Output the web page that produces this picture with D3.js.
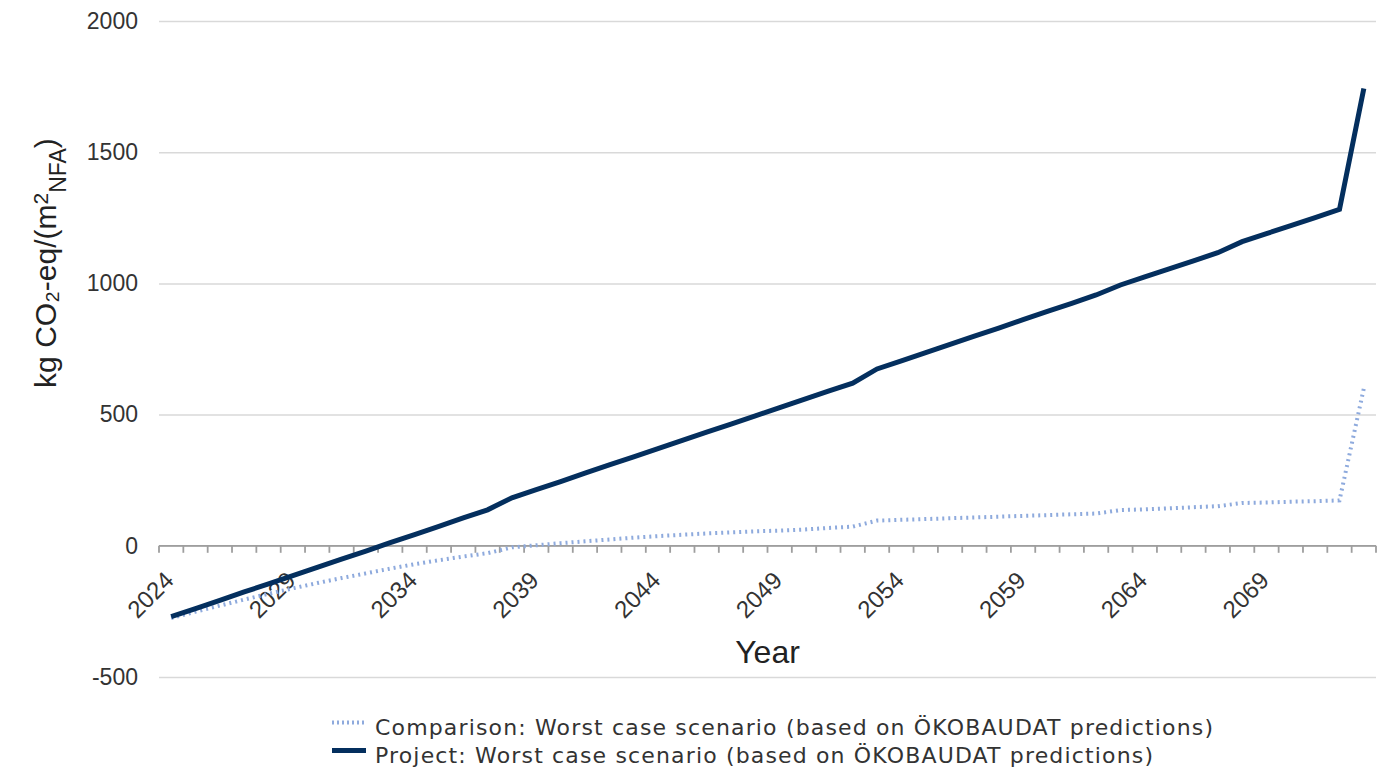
<!DOCTYPE html>
<html>
<head>
<meta charset="utf-8">
<script src="https://cdn.jsdelivr.net/npm/d3@7"></script>
<style>
  html, body { margin: 0; padding: 0; background: #ffffff; }
  svg { display: block; }
</style>
</head>
<body>
<svg id="chart" width="1392" height="773"></svg>
<script>
const years = [2024,2025,2026,2027,2028,2029,2030,2031,2032,2033,
               2034,2035,2036,2037,2038,2039,2040,2041,2042,2043,
               2044,2045,2046,2047,2048,2049,2050,2051,2052,2053,
               2054,2055,2056,2057,2058,2059,2060,2061,2062,2063,
               2064,2065,2066,2067,2068,2069,2070,2071,2072,2073];

const projectValues = [-270,-239,-208,-176,-145,-114,-82,-51,-20,12,
                       43,74,106,137,183,214,245,277,308,339,
                       370,402,433,464,495,527,558,589,620,674,
                       705,736,768,799,830,862,893,924,956,994,
                       1025,1055,1086,1117,1159,1190,1220,1251,1282,1743];

const comparisonValues = [-275,-251,-228,-205,-183,-162,-142,-123,-105,-87,
                          -70,-55,-41,-28,-6,2,10,17,24,31,
                          37,42,47,51,55,58,62,68,73,96,
                          99,102,105,108,111,114,117,120,123,136,
                          139,143,147,151,163,165,168,170,173,600];

const xTickLabels = ["2024","2029","2034","2039","2044","2049","2054","2059","2064","2069"];
const yTicks = [-500, 0, 500, 1000, 1500, 2000];

const seriesNames = [
  "Comparison: Worst case scenario (based on ÖKOBAUDAT predictions)",
  "Project: Worst case scenario (based on ÖKOBAUDAT predictions)"
];

(function draw() {
  const svg = d3.select("#chart");
  const mLeft = 159, mRight = 1376, mTop = 21, mBottom = 677;
  const axisFont = "'Liberation Sans', Arial, sans-serif";
  const textColor = "#333333";
  const navy = "#042f5e";
  const lightBlue = "#8eaadd";

  const x = d3.scaleBand().domain(years).range([mLeft, mRight]).padding(0);
  const y = d3.scaleLinear().domain([-500, 2000]).range([mBottom, mTop]);
  const bw = x.bandwidth();

  svg.append("rect").attr("width", 1392).attr("height", 773).attr("fill", "#ffffff");

  // Y axis with gridlines
  const yAxis = svg.append("g")
    .attr("transform", `translate(${mLeft},0)`)
    .call(d3.axisLeft(y).tickValues(yTicks).tickSize(-(mRight - mLeft)).tickPadding(21).tickFormat(d => String(d)));
  yAxis.select(".domain").remove();
  yAxis.selectAll(".tick line").attr("stroke", "#d9d9d9").attr("stroke-width", 1.5);
  yAxis.selectAll(".tick text")
    .attr("font-family", axisFont).attr("font-size", 23).attr("fill", textColor);

  // X axis line and ticks at band boundaries
  const xg = svg.append("g");
  const y0 = y(0);
  xg.append("line").attr("x1", mLeft).attr("x2", mRight).attr("y1", y0).attr("y2", y0)
    .attr("stroke", "#9e9e9e").attr("stroke-width", 1.8);
  const boundaries = years.map(yr => x(yr)).concat([x(years[years.length - 1]) + bw]);
  xg.selectAll("line.tk").data(boundaries).enter().append("line").attr("class", "tk")
    .attr("x1", d => d).attr("x2", d => d).attr("y1", y0).attr("y2", y0 + 7)
    .attr("stroke", "#9e9e9e").attr("stroke-width", 1.8);

  xg.selectAll("text.xl").data(xTickLabels).enter().append("text").attr("class", "xl")
    .attr("transform", d => `translate(${x(+d) + bw / 2 + 4},${y0 + 36}) rotate(-45)`)
    .attr("text-anchor", "end")
    .attr("font-family", axisFont).attr("font-size", 24).attr("fill", textColor)
    .text(d => d);

  // Lines
  const line = d3.line().x(d => x(d[0]) + bw / 2).y(d => y(d[1]));

  svg.append("path")
    .datum(years.map((yr, i) => [yr, comparisonValues[i]]))
    .attr("d", line).attr("fill", "none")
    .attr("stroke", lightBlue).attr("stroke-width", 4).attr("stroke-dasharray", "2 4");

  svg.append("path")
    .datum(years.map((yr, i) => [yr, projectValues[i]]))
    .attr("d", line).attr("fill", "none")
    .attr("stroke", navy).attr("stroke-width", 5).attr("stroke-linejoin", "miter");

  // Axis titles
  svg.append("text")
    .attr("x", 767.5).attr("y", 663)
    .attr("text-anchor", "middle")
    .attr("font-family", axisFont).attr("font-size", 32).attr("fill", "#222222")
    .text("Year");

  const yt = svg.append("text")
    .attr("transform", "translate(56,263) rotate(-90)")
    .attr("text-anchor", "middle")
    .attr("font-family", axisFont).attr("font-size", 30).attr("fill", "#222222");
  yt.append("tspan").text("kg CO₂-eq/(m");
  yt.append("tspan").attr("font-size", 21).attr("dy", -8).text("2");
  yt.append("tspan").attr("font-size", 23).attr("dy", 18).text("NFA");
  yt.append("tspan").attr("dy", -10).text(")");

  // Legend
  const legendFont = "'DejaVu Sans', Verdana, sans-serif";
  const lg = svg.append("g");
  const rows = [
    { name: seriesNames[0], color: lightBlue, dash: "2 3", width: 4, base: 735, len: 838 },
    { name: seriesNames[1], color: navy, dash: null, width: 5, base: 763, len: 778 }
  ];
  rows.forEach(r => {
    lg.append("line").attr("x1", 332).attr("x2", 366).attr("y1", r.base - 12.5).attr("y2", r.base - 12.5)
      .attr("stroke", r.color).attr("stroke-width", r.width)
      .attr("stroke-dasharray", r.dash);
    lg.append("text").attr("x", 375).attr("y", r.base)
      .attr("font-family", legendFont).attr("font-size", 22).attr("fill", textColor)
      .attr("textLength", r.len).attr("lengthAdjust", "spacing")
      .text(r.name);
  });
})();
</script>
</body>
</html>
